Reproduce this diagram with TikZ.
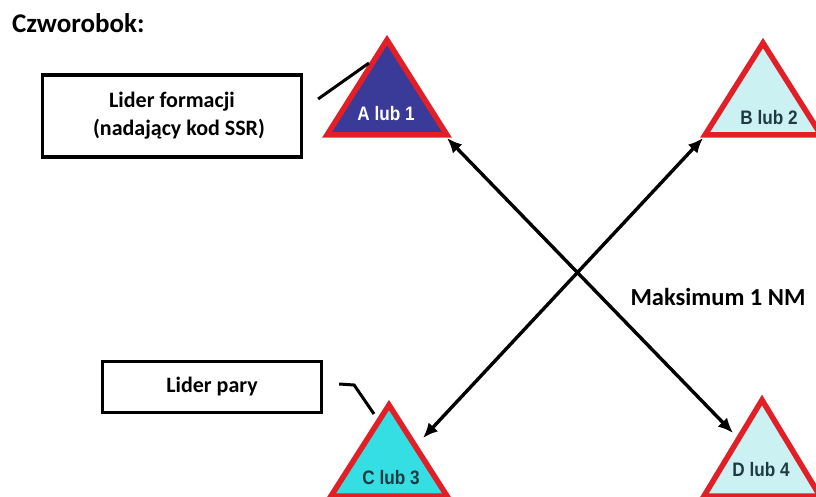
\documentclass[tikz,border=0pt]{standalone}
\usepackage{fontspec}
\setmainfont{Carlito}
\newfontfamily\trifont{Liberation Sans}
\usetikzlibrary{arrows.meta,positioning}

\definecolor{trired}{RGB}{226,30,38}
\definecolor{darkblue}{RGB}{58,58,152}
\definecolor{lightcyan}{RGB}{204,241,242}
\definecolor{brightcyan}{RGB}{52,222,226}
\definecolor{darkteal}{RGB}{30,58,66}

\tikzset{
    tri/.style={draw=trired, line width=5.5pt, line join=miter},
    trilabel/.style={font=\trifont\bfseries\fontsize{19.5}{19.5}\selectfont, xscale=0.88, inner sep=0pt},
    infobox/.style={draw, line width=3.2pt, align=center, font=\bfseries\fontsize{22}{28}\selectfont},
    leader/.style={line width=3pt},
    twoway/.style={line width=3.4pt, {Latex[length=15pt,width=13pt]}-{Latex[length=15pt,width=13pt]}}
}

\begin{document}
\begin{tikzpicture}[x=1pt,y=-1pt]
        \useasboundingbox (0,0) rectangle (816,497);
        % Title
        \node[anchor=west, inner sep=0pt, font=\bfseries\fontsize{27}{27}\selectfont] (title) at (12,23) {Czworobok:};
        % Triangles
        \fill[darkblue] (387,40) -- (327,135) -- (447,135) -- cycle;
        \draw[tri] (387,40) -- (327,135) -- (447,135) -- cycle;
        \fill[lightcyan] (763,43) -- (705,135) -- (821,135) -- cycle;
        \draw[tri] (763,43) -- (705,135) -- (821,135) -- cycle;
        \fill[brightcyan] (389,405) -- (331,496) -- (447,496) -- cycle;
        \draw[tri] (389,405) -- (331,496) -- (447,496) -- cycle;
        \fill[lightcyan] (762,400) -- (704,496) -- (820,496) -- cycle;
        \draw[tri] (762,400) -- (704,496) -- (820,496) -- cycle;
        % Labels inside triangles
        \node[trilabel, text=white] (labA) at (386,114) {A lub 1};
        \node[trilabel, text=darkteal] (labB) at (769,118) {B lub 2};
        \node[trilabel, text=darkteal] (labC) at (391,478) {C lub 3};
        \node[trilabel, text=darkteal] (labD) at (761,470) {D lub 4};
        % Arrow ends at the triangle corners
        \coordinate (cA) at (447,138);
        \coordinate (cB) at (703,138);
        \coordinate (cC) at (423,438);
        \coordinate (cD) at (733,433);
        \draw[twoway] (cA) -- (cD);
        \draw[twoway] (cB) -- (cC);
        \node[font=\bfseries\fontsize{24.5}{24.5}\selectfont] (dist) at (718,297) {Maksimum 1 NM};
        % Boxes
        \node[infobox, minimum width=259pt, minimum height=82pt] (formacja) at (172,116)
            {Lider formacji\\\hspace*{14pt}(nadający kod SSR)};
        \node[infobox, minimum width=219pt, minimum height=51pt] (para) at (212,387) {Lider pary};
        % Leader lines
        \coordinate (ptA) at (369,63);
        \coordinate (ptC) at (374,414);
        \draw[leader] (formacja.east) ++(15,-17) coordinate (endA) -- (ptA);
        \draw[leader] (para.east) ++(16,-3) coordinate (endC) -- ++(15,1) -- (ptC);
    \end{tikzpicture}
\end{document}
